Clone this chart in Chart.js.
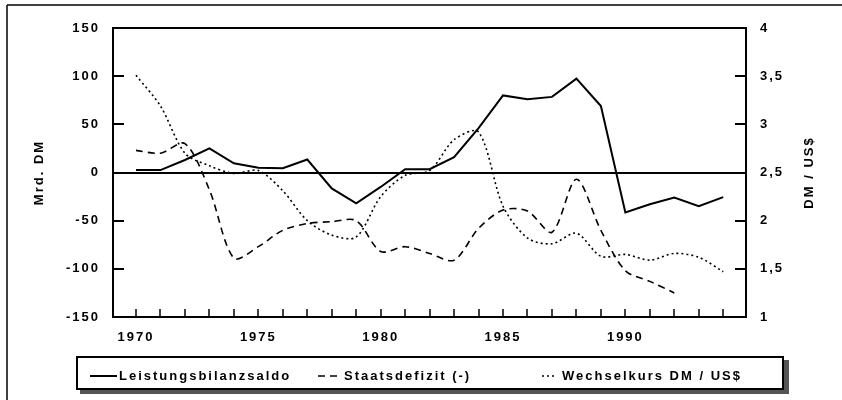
<!DOCTYPE html>
<html>
<head>
<meta charset="utf-8">
<script src="https://cdn.jsdelivr.net/npm/chart.js@4/dist/chart.umd.min.js"></script>
<style>
html, body { margin: 0; padding: 0; background: #fff; }
</style>
</head>
<body>
<canvas id="chart" width="842" height="400"></canvas>
<script>
// values
var years = [1970, 1971, 1972, 1973, 1974, 1975, 1976, 1977, 1978, 1979, 1980, 1981, 1982,
             1983, 1984, 1985, 1986, 1987, 1988, 1989, 1990, 1991, 1992, 1993, 1994];
var yearLabels = [1970, 1975, 1980, 1985, 1990];

var leistungsbilanz = [2.5, 2.5, 13, 25, 9.5, 5, 4.5, 13.5, -16.5, -32, -15, 3.5, 3.5, 16,
                       46, 80, 76, 78.5, 97.5, 69, -41.5, -33, -26, -35, -25.5];
var staatsdefizit = [23, 20, 30, -18, -89, -77, -60, -53, -51, -50, -82, -77, -84, -91,
                     -58, -39, -40, -62, -7, -60, -102, -113, -125, null, null];
var wechselkurs = [3.51, 3.19, 2.70, 2.57, 2.49, 2.52, 2.31, 2.00, 1.85, 1.83, 2.25, 2.47,
                   2.52, 2.84, 2.92, 2.15, 1.82, 1.76, 1.87, 1.63, 1.65, 1.59, 1.66, 1.62, 1.47];

var leftTicks = [-150, -100, -50, 0, 50, 100, 150];
var rightTicks = [1, 1.5, 2, 2.5, 3, 3.5, 4];

var fontFamily = "'Liberation Sans', Arial, Helvetica, sans-serif";
Chart.defaults.font.family = fontFamily;
Chart.defaults.font.size = 13;
Chart.defaults.font.weight = 'bold';
Chart.defaults.color = '#000';

function line(ctx, x1, y1, x2, y2) {
    ctx.beginPath();
    ctx.moveTo(x1, y1);
    ctx.lineTo(x2, y2);
    ctx.stroke();
}

// frame, inward tick marks, right title and the boxed legend
var framePlugin = {
    id: 'frame',
    beforeLayout: function(chart) { chart.ctx.letterSpacing = '2px'; },
    beforeDraw: function(chart) { chart.ctx.letterSpacing = '2px'; },
    afterDraw: function(chart) {
        var ctx = chart.ctx, a = chart.chartArea;
        var sx = chart.scales.x, sy = chart.scales.y, sy2 = chart.scales.y2;
        ctx.save();
        ctx.strokeStyle = '#000';
        ctx.fillStyle = '#000';

        // outer border of the figure
        ctx.lineWidth = 1.5;
        line(ctx, 7, 5, 842, 5);
        line(ctx, 7, 5, 7, 400);

        ctx.lineWidth = 2;
        ctx.strokeRect(a.left, a.top, a.right - a.left, a.bottom - a.top);

        leftTicks.forEach(function(v) {
            if (v === 0 || v === -150 || v === 150) return;
            var py = Math.round(sy.getPixelForValue(v));
            line(ctx, a.left, py, a.left + 11, py);
        });
        rightTicks.forEach(function(v) {
            if (v === 1 || v === 4 || v === 2.5) return;
            var py = Math.round(sy2.getPixelForValue(v));
            line(ctx, a.right - 11, py, a.right, py);
        });
        ctx.lineWidth = 1.5;
        years.forEach(function(v) {
            var px = Math.round(sx.getPixelForValue(v));
            line(ctx, px, a.bottom, px, a.bottom - 8);
        });

        // right axis title, reading upwards like the left one
        ctx.save();
        ctx.translate(809, (a.top + a.bottom) / 2);
        ctx.rotate(-Math.PI / 2);
        ctx.font = 'bold 13px ' + fontFamily;
        ctx.textAlign = 'center';
        ctx.textBaseline = 'middle';
        ctx.fillText('DM / US$', 0, 0);
        ctx.restore();

        // legend box with shadow
        ctx.fillStyle = '#555';
        ctx.fillRect(80, 390, 709, 4);
        ctx.fillRect(784, 360, 5, 34);
        ctx.fillStyle = '#fff';
        ctx.fillRect(77, 357, 706, 32);
        ctx.strokeStyle = '#000';
        ctx.lineWidth = 2;
        ctx.strokeRect(77, 357, 706, 32);

        var sampleX = [90, 318, 542];
        var sampleW = [27, 19, 14];
        var textX = [119, 344, 562];
        ctx.font = 'bold 13px ' + fontFamily;
        ctx.textAlign = 'left';
        ctx.textBaseline = 'middle';
        chart.data.datasets.forEach(function(ds, i) {
            ctx.save();
            ctx.lineWidth = ds.borderWidth;
            ctx.setLineDash(ds.borderDash || []);
            line(ctx, sampleX[i], 376, sampleX[i] + sampleW[i], 376);
            ctx.restore();
            ctx.fillStyle = '#000';
            ctx.fillText(ds.label, textX[i], 376);
        });
        ctx.restore();
    }
};

var chart = new Chart(document.getElementById('chart').getContext('2d'), {
    type: 'line',
    data: {
        labels: years,
        datasets: [{
            label: 'Leistungsbilanzsaldo',
            data: leistungsbilanz,
            yAxisID: 'y',
            borderColor: '#000',
            borderWidth: 2,
            pointRadius: 0,
            tension: 0
        }, {
            label: 'Staatsdefizit (-)',
            data: staatsdefizit,
            yAxisID: 'y',
            borderColor: '#000',
            borderWidth: 1.6,
            borderDash: [7, 5],
            pointRadius: 0,
            tension: 0.3
        }, {
            label: 'Wechselkurs DM / US$',
            data: wechselkurs,
            yAxisID: 'y2',
            borderColor: '#000',
            borderWidth: 1.6,
            borderDash: [2, 3],
            pointRadius: 0,
            tension: 0.3
        }]
    },
    options: {
        responsive: false,
        animation: false,
        layout: { padding: { left: 20, right: 20, top: 28, bottom: 0 } },
        plugins: { legend: { display: false }, tooltip: { enabled: false } },
        scales: {
            x: {
                type: 'linear',
                min: 1969.06,
                max: 1994.93,
                afterBuildTicks: function(scale) {
                    scale.ticks = years.map(function(v) { return { value: v }; });
                },
                afterFit: function(scale) { scale.height = 83; },
                ticks: {
                    autoSkip: false,
                    maxRotation: 0,
                    padding: 13,
                    callback: function(v) { return yearLabels.indexOf(v) >= 0 ? String(v) : ''; }
                },
                grid: { display: false, drawTicks: false },
                border: { display: false }
            },
            y: {
                position: 'left',
                min: -150,
                max: 150,
                afterBuildTicks: function(scale) {
                    scale.ticks = leftTicks.map(function(v) { return { value: v }; });
                },
                afterFit: function(scale) { scale.width = 93; },
                ticks: { padding: 13, callback: function(v) { return String(v); } },
                grid: {
                    drawTicks: false,
                    lineWidth: 2,
                    color: function(c) { return c.tick && c.tick.value === 0 ? '#000' : 'rgba(0,0,0,0)'; }
                },
                border: { display: false },
                title: { display: true, text: 'Mrd. DM', padding: { top: 12, bottom: 0 } }
            },
            y2: {
                position: 'right',
                min: 1,
                max: 4,
                afterBuildTicks: function(scale) {
                    scale.ticks = rightTicks.map(function(v) { return { value: v }; });
                },
                afterFit: function(scale) { scale.width = 76; },
                ticks: { padding: 14, callback: function(v) { return String(v).replace('.', ','); } },
                grid: { display: false, drawTicks: false },
                border: { display: false }
            }
        }
    },
    plugins: [framePlugin]
});
</script>
</body>
</html>
